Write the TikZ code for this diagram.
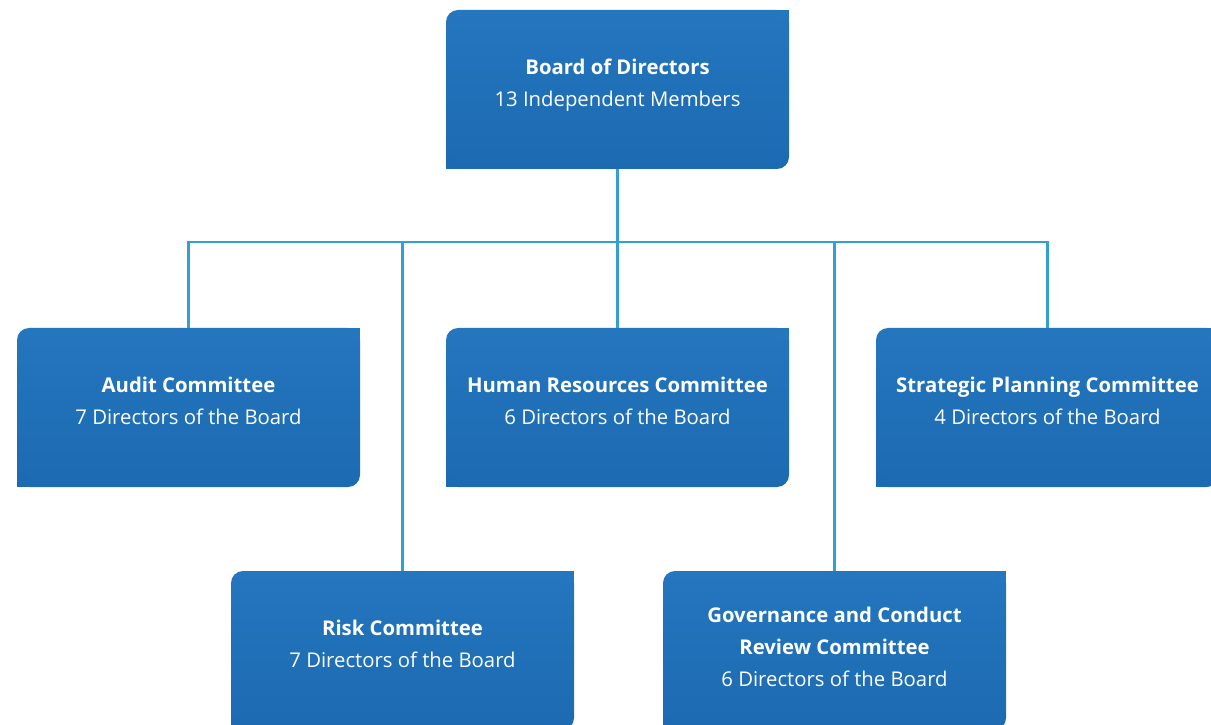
\documentclass[tikz,border=0pt]{standalone}
\usepackage{fontspec}
\setmainfont{Open Sans}
\usetikzlibrary{positioning}
\usetikzlibrary{calc}

\definecolor{linkblue}{RGB}{52,160,210}
\definecolor{cardtop}{RGB}{36,118,190}
\definecolor{cardbot}{RGB}{28,106,178}

\tikzset{
  link/.style={draw=linkblue, line width=2.4pt},
  card/.style={minimum width=343pt, minimum height=159pt, inner sep=0pt,
    rounded corners=12pt, top color=cardtop, bottom color=cardbot},
  cardtext/.style={align=center, text=white, font=\fontsize{20.3}{32}\selectfont, yshift=7pt},
}

\begin{document}
\begin{tikzpicture}[x=1pt, y=1pt]
\useasboundingbox (0,0) rectangle (1211,724);
\clip (0,0) rectangle (1211,724);

% the board and its committees
\node[card, label={[cardtext, yshift=-3pt]center:{\textbf{Board of Directors}\\13 Independent Members}}] (board) at (617.5,634.5) {};
\node[card, label={[cardtext]center:{\textbf{Audit Committee}\\7 Directors of the Board}}] (audit) at (188.5,316.5) {};
\node[card, label={[cardtext]center:{\textbf{Human Resources Committee}\\6 Directors of the Board}}] (hr) at (617.5,316.5) {};
\node[card, label={[cardtext]center:{\textbf{Strategic Planning Committee}\\4 Directors of the Board}}] (strat) at (1047.5,316.5) {};
\node[card, label={[cardtext]center:{\textbf{Risk Committee}\\7 Directors of the Board}}] (risk) at (402.5,73.5) {};
\node[card, label={[cardtext, yshift=-3pt]center:{\textbf{Governance and Conduct}\\\textbf{Review Committee}\\6 Directors of the Board}}] (gov) at (834.5,73.5) {};

% square off the top right and bottom left corners
\foreach \n in {board,audit,hr,strat,risk,gov} {
  \fill[cardtop] (\n.north east) rectangle ++(-12pt,-12pt);
  \fill[cardbot] (\n.south west) rectangle ++(12pt,12pt);
}

% connectors
\coordinate (bus) at (617.5,482);
\draw[link] (board) -- (bus);
\foreach \n in {audit,risk,hr,gov,strat}
  \draw[link] (bus) -| (\n);
\end{tikzpicture}
\end{document}
